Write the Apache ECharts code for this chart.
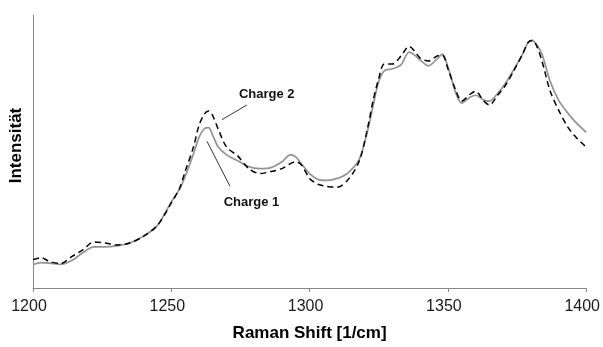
<!DOCTYPE html>
<html>
<head>
<meta charset="utf-8">
<script src="https://cdn.jsdelivr.net/npm/echarts@6/dist/echarts.min.js"></script>
<style>
  html, body { margin: 0; padding: 0; background: #fff; }
  #chart { width: 603px; height: 347px; }
</style>
</head>
<body>
<div id="chart"></div>
<script>
// Raman shift positions [1/cm]
const shift = [1200, 1203, 1206, 1210, 1214, 1218, 1222, 1226, 1230, 1235, 1240, 1245, 1250, 1253, 1255, 1258, 1260, 1262, 1263.5, 1265, 1267, 1270, 1274, 1278, 1282, 1286, 1290, 1293, 1295, 1297, 1300, 1303, 1306, 1310, 1314, 1318, 1321, 1323, 1325, 1327, 1330, 1333, 1336, 1338, 1340, 1343, 1346, 1348, 1350, 1353, 1355, 1358, 1360, 1363, 1365, 1368, 1371, 1374, 1377, 1379, 1380.5, 1382, 1384, 1387, 1390, 1393, 1396, 1400];

// Intensity, arbitrary units
const charge1 = [24, 26, 25.5, 24, 28, 36, 42, 42, 43, 46, 53, 64, 88, 101, 114, 137, 154, 163, 164, 156, 144, 136, 130, 124, 122, 123, 129, 136, 134, 127, 117, 111, 110, 112, 118, 132, 161, 187, 211, 222, 224, 228, 241, 238, 233, 227, 234, 239, 226, 198, 189, 195, 197, 192, 191, 199, 210, 224, 239, 251, 253, 249, 239, 211, 192, 180, 170, 159];
const charge2 = [29, 31, 27, 25, 32, 39, 47, 46, 44, 46, 53, 64, 87, 102, 119, 144, 166, 178, 181, 176, 162, 144, 135, 122, 117, 119, 122, 127, 129, 126, 112, 106, 104, 103, 111, 130, 164, 192, 214, 229, 229, 237, 247, 242, 235, 232, 237, 238, 224, 201, 191, 198, 201, 191, 187, 197, 208, 223, 239, 251, 253, 248, 232, 201, 182, 166, 155, 144];

const xTicks = [1200, 1250, 1300, 1350, 1400];

// Series labels and their leader lines (data coordinates)
const labelNames = ['Charge 1', 'Charge 2'];
const labelPos = [[1279, 87], [1284.5, 198]];
const leaderFrom = [[1271.2, 104], [1277.3, 187]];
const leaderTo = [[1262.9, 150], [1268.3, 172]];

const chart = echarts.init(document.getElementById('chart'), null, { renderer: 'canvas' });

function pairs(xs, ys) { return xs.map((x, i) => [x, ys[i]]); }

function annotation(i) {
  return {
    markLine: {
      silent: true,
      symbol: ['none', 'none'],
      lineStyle: { color: '#333', width: 1, type: 'solid' },
      label: { show: false },
      data: [[{ coord: leaderFrom[i] }, { coord: leaderTo[i] }]]
    },
    markPoint: {
      silent: true,
      symbol: 'circle',
      symbolSize: 0,
      label: {
        show: true,
        formatter: labelNames[i],
        position: 'inside',
        color: '#111',
        fontFamily: 'Liberation Sans, Arial, sans-serif',
        fontWeight: 'bold',
        fontSize: 13
      },
      data: [{ coord: labelPos[i] }]
    }
  };
}

chart.setOption({
  animation: false,
  backgroundColor: '#fff',
  grid: { left: 33, right: 14, top: 15, bottom: 53 },
  xAxis: {
    type: 'value',
    min: 1200,
    max: 1400,
    interval: 50,
    name: 'Raman Shift [1/cm]',
    nameLocation: 'middle',
    nameGap: 37,
    nameTextStyle: { fontFamily: 'Liberation Sans, Arial, sans-serif', fontWeight: 'bold', fontSize: 17, color: '#000' },
    axisLine: { lineStyle: { color: '#888', width: 1 } },
    axisTick: { show: true, length: 4, lineStyle: { color: '#888' } },
    axisLabel: {
      fontFamily: 'Liberation Sans, Arial, sans-serif', fontSize: 16, color: '#1a1a1a', margin: 11,
      padding: [0, 8, 0, 0],
      formatter: v => xTicks.includes(v) ? String(v) : ''
    },
    splitLine: { show: false }
  },
  yAxis: {
    type: 'value',
    min: 0,
    max: 279,
    name: 'Intensität',
    nameLocation: 'middle',
    nameGap: 8,
    nameTextStyle: {
      fontFamily: 'Liberation Sans, Arial, sans-serif', fontWeight: 'bold', fontSize: 17, color: '#000',
      padding: [0, 0, 0, 12]
    },
    axisLine: { show: true, lineStyle: { color: '#888', width: 1 } },
    axisTick: { show: false },
    axisLabel: { show: false },
    splitLine: { show: false }
  },
  series: [
    Object.assign({
      name: 'Charge 1',
      type: 'line',
      data: pairs(shift, charge1),
      smooth: 0.3,
      showSymbol: false,
      lineStyle: { color: '#939393', width: 1.7 },
      z: 2
    }, annotation(0)),
    Object.assign({
      name: 'Charge 2',
      type: 'line',
      data: pairs(shift, charge2),
      smooth: 0.3,
      showSymbol: false,
      lineStyle: { color: '#000', width: 1.5, type: [6, 4] },
      z: 3
    }, annotation(1))
  ]
});
</script>
</body>
</html>
